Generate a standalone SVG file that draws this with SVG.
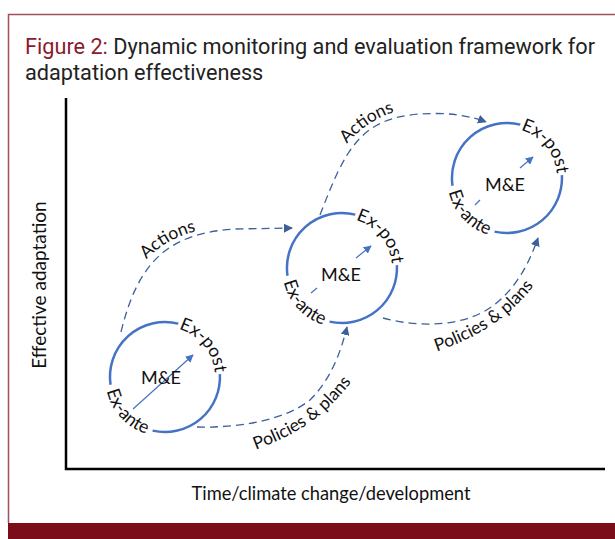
<svg xmlns="http://www.w3.org/2000/svg" width="615" height="539" viewBox="0 0 615 539">
<style>
.title{font-family:Roboto,"Liberation Sans",sans-serif;font-size:21.7px;fill:#222}
.fig{fill:#8b1a2b}
.lbl{font-family:Lato,"Liberation Sans",Arial,sans-serif;fill:#111}
.axis{stroke:#000;stroke-width:2.5;fill:none}
.ring{fill:none;stroke:#4472c4;stroke-width:2.5}
.flow{fill:none;stroke:#3d5f9b;stroke-width:1.3;stroke-dasharray:8 5}
.inner{stroke:#4472c4;stroke-width:1.2;fill:none}
</style>
<defs>
<marker id="ah" viewBox="0 0 10 10" refX="9" refY="5" markerWidth="9" markerHeight="9" markerUnits="userSpaceOnUse" orient="auto"><path d="M0,0 L10,5 L0,10 z" fill="#3d5f9b"/></marker>
<marker id="ah2" viewBox="0 0 10 10" refX="9" refY="5" markerWidth="8" markerHeight="8" markerUnits="userSpaceOnUse" orient="auto"><path d="M0,0 L10,5 L0,10 z" fill="#4472c4"/></marker>
<path id="postPath" d="M7,-49.5 A50,50 0 0 1 49.9,2.6"/>
<path id="antePath" d="M-59.8,-5.2 A60,60 0 0 0 0,60"/>
<path id="actPath1" d="M143,263 C158,246 177,235 201,230"/>
<path id="actPath2" d="M345,146 C358,130 375,118 397,111"/>
<path id="polPath1" d="M255,450 C290,437 322,421 352,381"/>
<path id="polPath2" d="M435,352 C468,341 506,323 535,284"/>
</defs>
<rect width="615" height="539" fill="#fff"/>
<path d="M8.5,523 V14.5 H615" fill="none" stroke="#a0505a" stroke-width="1.5"/>
<rect x="8" y="523" width="607" height="16" fill="#7b0d1a"/>
<text class="title" x="25" y="54"><tspan class="fig">Figure 2:</tspan> Dynamic monitoring and evaluation framework for</text>
<text class="title" x="25" y="80">adaptation effectiveness</text>
<g id="axes">
<path class="axis" d="M66,98 V469 H605"/>
<text class="lbl" font-size="18.3" x="331" y="500" text-anchor="middle">Time/climate change/development</text>
<text class="lbl" font-size="19" transform="translate(46,285) rotate(-90)" text-anchor="middle">Effective adaptation</text>
</g>
<g id="connectors">
<path class="flow" d="M121,332 C138,262 168,233 235,229 L292,228" marker-end="url(#ah)"/>
<text class="lbl" font-size="17.5"><textPath href="#actPath1" startOffset="50%" text-anchor="middle">Actions</textPath></text>
<path class="flow" d="M320,215 C345,150 360,118 420,114 C450,112 470,116 486,122" marker-end="url(#ah)"/>
<text class="lbl" font-size="17.5"><textPath href="#actPath2" startOffset="50%" text-anchor="middle">Actions</textPath></text>
<path class="flow" d="M197,427 C240,428 285,420 310,400 C330,380 340,355 347,327" marker-end="url(#ah)"/>
<text class="lbl" font-size="17.5"><textPath href="#polPath1" startOffset="50%" text-anchor="middle">Policies &amp; plans</textPath></text>
<path class="flow" d="M383,318 C420,328 470,328 500,300 C520,282 530,260 538,238" marker-end="url(#ah)"/>
<text class="lbl" font-size="17.5"><textPath href="#polPath2" startOffset="50%" text-anchor="middle">Policies &amp; plans</textPath></text>
</g>
<g id="node1" transform="translate(165,377)">
<path class="ring" d="M13.3,-53.4 A55,55 0 0 0 -54.5,7.7"/>
<path class="ring" d="M-12.4,53.6 A55,55 0 0 0 54.9,-2.9"/>
<line class="inner" x1="-32" y1="32" x2="28" y2="-22" marker-end="url(#ah2)"/>
<text class="lbl" font-size="18" x="-4" y="7" text-anchor="middle">M&amp;E</text>
<text class="lbl" font-size="18"><textPath href="#postPath" startOffset="50%" text-anchor="middle">Ex-post</textPath></text>
<text class="lbl" font-size="18"><textPath href="#antePath" startOffset="50%" text-anchor="middle">Ex-ante</textPath></text>
</g>
<g id="node2" transform="translate(342,268)">
<path class="ring" d="M13.3,-53.4 A55,55 0 0 0 -54.5,7.7"/>
<path class="ring" d="M-12.4,53.6 A55,55 0 0 0 54.9,-2.9"/>
<line class="inner" x1="-31" y1="25" x2="-25" y2="20"/>
<line class="inner" x1="14" y1="-10" x2="29" y2="-22" marker-end="url(#ah2)"/>
<text class="lbl" font-size="18" x="-1" y="13" text-anchor="middle">M&amp;E</text>
<text class="lbl" font-size="18"><textPath href="#postPath" startOffset="50%" text-anchor="middle">Ex-post</textPath></text>
<text class="lbl" font-size="18"><textPath href="#antePath" startOffset="50%" text-anchor="middle">Ex-ante</textPath></text>
</g>
<g id="node3" transform="translate(507,178)">
<path class="ring" d="M13.3,-53.4 A55,55 0 0 0 -54.5,7.7"/>
<path class="ring" d="M-12.4,53.6 A55,55 0 0 0 54.9,-2.9"/>
<line class="inner" x1="-32" y1="27" x2="-27" y2="22"/>
<line class="inner" x1="13" y1="-10" x2="26" y2="-21" marker-end="url(#ah2)"/>
<text class="lbl" font-size="18" x="-2" y="13" text-anchor="middle">M&amp;E</text>
<text class="lbl" font-size="18"><textPath href="#postPath" startOffset="50%" text-anchor="middle">Ex-post</textPath></text>
<text class="lbl" font-size="18"><textPath href="#antePath" startOffset="50%" text-anchor="middle">Ex-ante</textPath></text>
</g>
</svg>
